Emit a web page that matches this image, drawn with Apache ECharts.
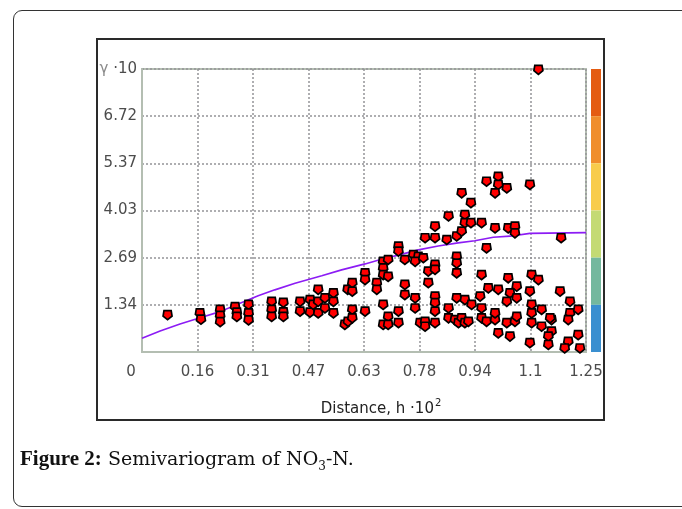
<!DOCTYPE html>
<html>
<head>
<meta charset="utf-8">
<script src="https://cdn.jsdelivr.net/npm/echarts@6/dist/echarts.min.js"></script>
<style>
    body { margin: 0; background: #fff; }
    .card {
        position: absolute; left: 13px; top: 10px; width: 720px; height: 495px;
        border: 1.5px solid #333; border-radius: 9px;
    }
    .frame {
        position: absolute; left: 96px; top: 38px; width: 505px; height: 379px;
        border: 2px solid #2a2a2a;
    }
    #chart { position: absolute; left: 0; top: 0; width: 682px; height: 509px; }
    .caption {
        position: absolute; left: 20px; top: 446px;
        font-family: 'DejaVu Serif', serif; font-size: 19px; color: #111;
    }
    .caption b { font-family: 'Liberation Serif', serif; font-size: 21px; }
    .caption sub { font-size: 12px; }
</style>
</head>
<body>
<div class="card"></div>
<div class="frame"></div>
<div id="chart"></div>
<div class="caption"><b>Figure 2:</b> Semivariogram of NO<sub>3</sub>-N.</div>
<script>
const xTickLabels = ['0', '0.16', '0.31', '0.47', '0.63', '0.78', '0.94', '1.1', '1.25']
const yTickLabels = ['', '1.34', '2.69', '4.03', '5.37', '6.72', 'γ ·10']
const xMax = 1.25
const yMax = 8.0625
// colour bands of the scale on the right, top to bottom
const bandColors = ['#e45c12', '#f08e2c', '#f8cc4c', '#c4da74', '#74b89e', '#3a8fd0']

// fitted model
const modelLine = [
    [0, 0.39], [0.051, 0.6], [0.107, 0.8], [0.159, 0.96], [0.22, 1.15], [0.276, 1.39],
    [0.327, 1.6], [0.374, 1.77], [0.431, 1.96], [0.506, 2.17], [0.562, 2.34], [0.628, 2.51],
    [0.684, 2.67], [0.722, 2.76], [0.778, 2.91], [0.834, 3.02], [0.89, 3.11], [0.937, 3.17],
    [0.989, 3.27], [1.036, 3.3], [1.092, 3.38], [1.25, 3.4],
]

// experimental semivariogram points
const points = [
    [0.072, 1.05],
    [0.163, 1.1], [0.166, 0.92],
    [0.22, 1.2], [0.22, 1.03], [0.22, 0.85],
    [0.262, 1.28], [0.267, 1.12], [0.267, 1.0],
    [0.3, 1.34], [0.3, 1.1], [0.3, 0.9],
    [0.365, 1.43], [0.365, 1.2], [0.365, 1.0],
    [0.398, 1.4], [0.398, 1.13], [0.398, 1.0],
    [0.445, 1.43], [0.445, 1.15],
    [0.473, 1.48], [0.473, 1.12], [0.482, 1.34],
    [0.496, 1.77], [0.496, 1.43], [0.496, 1.1],
    [0.515, 1.53], [0.515, 1.24],
    [0.539, 1.67], [0.539, 1.43], [0.539, 1.1],
    [0.579, 1.77], [0.592, 1.96], [0.592, 1.72],
    [0.571, 0.77], [0.58, 0.86], [0.592, 1.2], [0.592, 0.96],
    [0.628, 2.24], [0.628, 2.05], [0.628, 1.15],
    [0.661, 1.96], [0.661, 1.77],
    [0.679, 2.57], [0.693, 2.62], [0.679, 2.38], [0.679, 2.19], [0.693, 2.14],
    [0.679, 1.34], [0.693, 1.0], [0.679, 0.77], [0.693, 0.77],
    [0.722, 3.0], [0.722, 2.86], [0.74, 2.62], [0.722, 1.15], [0.722, 0.82],
    [0.74, 1.91], [0.74, 1.62],
    [0.769, 1.53], [0.769, 1.24],
    [0.764, 2.76], [0.778, 2.71], [0.769, 2.57], [0.792, 2.67],
    [0.783, 0.82], [0.797, 0.86], [0.797, 0.72],
    [0.797, 3.24], [0.825, 3.57], [0.825, 3.24],
    [0.806, 2.29], [0.825, 2.48], [0.825, 2.34], [0.806, 1.96],
    [0.825, 1.58], [0.825, 1.39], [0.825, 1.15], [0.825, 0.82],
    [0.863, 3.86], [0.858, 3.19], [0.863, 1.24], [0.863, 0.96],
    [0.886, 3.29], [0.886, 2.71], [0.886, 2.52], [0.886, 2.24], [0.886, 1.53],
    [0.881, 0.91], [0.891, 0.82],
    [0.9, 3.43], [0.9, 4.52], [0.909, 3.9], [0.909, 3.67], [0.926, 4.24], [0.926, 3.67],
    [0.909, 1.48], [0.928, 1.34], [0.9, 0.96], [0.909, 0.82], [0.919, 0.86],
    [0.97, 4.85], [1.003, 4.99], [1.003, 4.76], [1.027, 4.66], [0.994, 4.52], [1.092, 4.76],
    [0.956, 3.67], [0.994, 3.52], [1.031, 3.52], [1.05, 3.57], [1.05, 3.38],
    [0.97, 2.95], [1.18, 3.24],
    [0.956, 2.19], [0.975, 1.81], [0.952, 1.58], [1.003, 1.77], [1.031, 2.1], [1.055, 1.86],
    [1.036, 1.67], [1.027, 1.43], [1.055, 1.53],
    [0.956, 1.24], [0.956, 0.96], [0.97, 0.86], [0.994, 0.91], [0.994, 1.1], [1.003, 0.53],
    [1.027, 0.82], [1.05, 0.86], [1.055, 1.0], [1.036, 0.44],
    [1.097, 2.19], [1.116, 2.05], [1.092, 1.72], [1.097, 1.34], [1.097, 1.1], [1.125, 1.2],
    [1.097, 0.82], [1.125, 0.72],
    [1.153, 0.91], [1.153, 0.58], [1.144, 0.44], [1.092, 0.25], [1.144, 0.2], [1.149, 0.96],
    [1.177, 1.72], [1.205, 1.43], [1.205, 1.1], [1.228, 1.2], [1.2, 0.91], [1.228, 0.48],
    [1.2, 0.29], [1.19, 0.1], [1.233, 0.1],
    [1.116, 8.04],
]

const chart = echarts.init(document.getElementById('chart'))

const gridColor = '#b4beb2'
const labelFont = { color: '#4c4c4c', fontFamily: 'DejaVu Sans', fontSize: 15 }

chart.setOption({
    animation: false,
    grid: {
        left: 142,
        right: 96,
        top: 69,
        bottom: 157,
        show: true,
        borderColor: gridColor,
        borderWidth: 2,
    },
    xAxis: {
        type: 'value',
        min: 0,
        max: xMax,
        interval: xMax / 8,
        axisLine: { show: true, lineStyle: { color: gridColor, width: 2 } },
        axisTick: { show: false },
        splitLine: {
            show: true,
            lineStyle: { color: '#949498', type: [2, 2], width: 1.5 },
        },
        axisLabel: {
            ...labelFont,
            margin: 13,
            showMaxLabel: true,
            formatter: (v, i) => (i === 0 ? '{z|0}' : xTickLabels[i]),
            rich: { z: { ...labelFont, padding: [0, 22, 0, 0] } },
        },
        name: '{n|Distance, h ·10}{s|2}',
        nameLocation: 'middle',
        nameGap: 46,
        nameTextStyle: {
            padding: [0, 0, 0, 34],
            rich: {
                n: { fontFamily: 'DejaVu Sans', fontSize: 15, color: '#222' },
                s: { fontFamily: 'DejaVu Sans', fontSize: 10, color: '#222', padding: [0, 0, 12, 1] },
            },
        },
    },
    yAxis: {
        type: 'value',
        min: 0,
        max: yMax,
        interval: yMax / 6,
        axisLine: { show: true, lineStyle: { color: gridColor, width: 2 } },
        axisTick: { show: false },
        splitLine: {
            show: true,
            lineStyle: { color: '#949498', type: [2, 2], width: 1.5 },
        },
        axisLabel: {
            ...labelFont,
            margin: 5,
            showMaxLabel: true,
            formatter: (v, i) => (i === 6 ? '{g|γ} {k|·10}' : yTickLabels[i]),
            rich: {
                g: { ...labelFont, color: '#8a8a8a' },
                k: { ...labelFont },
            },
        },
    },
    series: [
        {
            name: 'model',
            type: 'line',
            data: modelLine,
            showSymbol: false,
            lineStyle: { color: '#8c1cf4', width: 1.6 },
            z: 2,
        },
        {
            name: 'points',
            type: 'scatter',
            data: points,
            symbol: 'path://M1 0H9L10 6L5 10L0 6Z',
            symbolSize: 9,
            itemStyle: { color: '#ff0000', borderColor: '#000', borderWidth: 1.7, opacity: 1 },
            clip: false,
            z: 3,
        },
    ],
})

// colour scale strip beside the plot, banded on the y ticks
const bandRects = bandColors.map((c, i) => {
    const top = chart.convertToPixel({ yAxisIndex: 0 }, yMax - i * yMax / 6)
    const bottom = chart.convertToPixel({ yAxisIndex: 0 }, yMax - (i + 1) * yMax / 6)
    const right = chart.convertToPixel({ xAxisIndex: 0 }, xMax)
    return {
        type: 'rect',
        shape: { x: right + 5, y: top, width: 10, height: bottom - top },
        style: { fill: c },
    }
})
chart.setOption({ graphic: bandRects })
</script>
</body>
</html>
